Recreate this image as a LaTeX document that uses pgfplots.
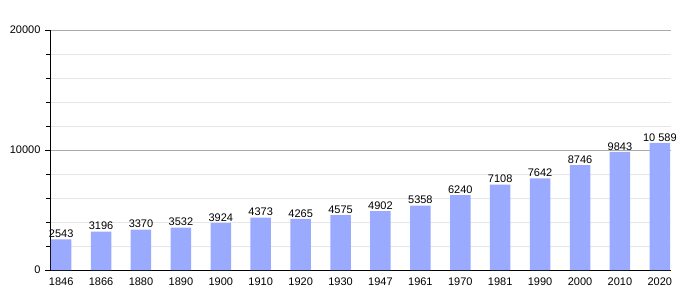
\documentclass[border=0pt]{standalone}
\usepackage{pgfplots}
\pgfplotsset{compat=1.18}
\usepackage{fontspec}
\setmainfont{Liberation Sans}
\definecolor{barc}{RGB}{153,170,255}
\definecolor{majg}{RGB}{170,170,170}
\definecolor{ming}{RGB}{230,230,230}
\begin{document}
\begin{tikzpicture}[x=1pt,y=1pt]
\begin{axis}[
  scale only axis, width=621pt, height=240pt,
  xmin=-0.28, xmax=15.28, ymin=0, ymax=20000,
  axis x line*=bottom, axis y line*=left,
  axis line style={black, line width=0.8pt},
  xtick=data, xticklabels={1846,1866,1880,1890,1900,1910,1920,1930,1947,1961,1970,1981,1990,2000,2010,2020},
  major x tick style={draw=none},
  ytick={0,10000,20000}, minor ytick={2000,4000,6000,8000,12000,14000,16000,18000},
  tick align=outside, major tick length=5pt, minor tick length=4pt,
  tick style={black, line width=0.6pt},
  ymajorgrids, yminorgrids,
  major grid style={majg, line width=0.6pt},
  minor grid style={ming, line width=0.6pt},
  scaled y ticks=false,
  yticklabel style={/pgf/number format/fixed, /pgf/number format/1000 sep={}, font=\fontsize{11}{13}\selectfont, xshift=-1pt},
  xticklabel style={font=\fontsize{11}{13}\selectfont, yshift=1pt},
  /pgf/number format/assume math mode=true,
  ybar, bar width=20.5pt,
  nodes near coords, point meta=explicit symbolic,
  nodes near coords style={font=\fontsize{11}{13}\selectfont, inner sep=1.5pt},
  axis on top=false, clip=false,
]
\addplot[fill=barc, draw=none] coordinates {
(0,2543)[2543] (1,3196)[3196] (2,3370)[3370] (3,3532)[3532] (4,3924)[3924]
(5,4373)[4373] (6,4265)[4265] (7,4575)[4575] (8,4902)[4902] (9,5358)[5358]
(10,6240)[6240] (11,7108)[7108] (12,7642)[7642] (13,8746)[8746] (14,9843)[9843]
(15,10589)[10 589]};
\end{axis}
\path (current axis.south west) ++(-50pt,-30pt) coordinate (bl);
\path (current axis.north east) ++(29pt,30pt) coordinate (tr);
\useasboundingbox (bl) rectangle (tr);
\end{tikzpicture}
\end{document}
